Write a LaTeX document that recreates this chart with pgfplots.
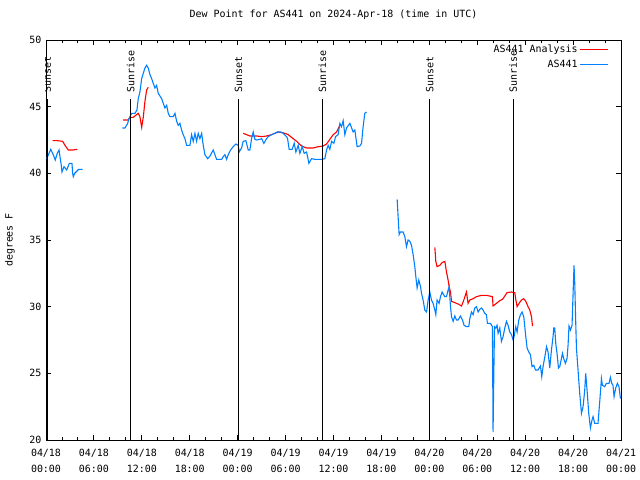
\documentclass[border=0pt]{standalone}
\usepackage{fontspec}
\setmainfont{DejaVu Sans Mono}
\usepackage{pgfplots}
\usepackage{pgfplotstable}
\pgfplotsset{compat=1.18}
\definecolor{obsblue}{RGB}{0,128,255}

% hours since 04/18 00:00 UTC, dew point (F)
\pgfplotstableread{
h y
0.09 41.1
0.59 41.8
0.91 41.4
1.16 41.0
1.41 41.5
1.63 41.75
1.75 41.25
1.88 40.75
2.0 40.1
2.25 40.5
2.59 40.25
2.92 40.75
3.25 40.75
3.34 40.0
3.42 39.75
3.59 40.0
4.09 40.3
4.59 40.3
7.0 nan
9.55 43.4
9.89 43.4
10.23 43.75
10.39 44.1
10.73 44.5
11.14 44.5
11.39 44.75
11.55 45.6
11.76 46.1
11.98 47.1
12.18 47.5
12.39 47.9
12.60 48.1
12.80 47.9
13.02 47.4
13.23 47.1
13.43 46.75
13.64 46.4
13.85 46.6
14.05 46.0
14.48 45.6
14.89 44.9
15.11 45.1
15.31 44.5
15.52 44.25
15.93 44.25
16.15 44.5
16.36 43.9
16.56 43.6
16.77 43.75
16.98 43.25
17.18 42.9
17.40 42.6
17.61 42.1
18.02 42.1
18.23 42.9
18.44 42.4
18.65 43.0
18.86 42.4
19.06 43.0
19.27 42.6
19.49 43.0
19.69 42.1
19.90 41.4
20.24 41.1
20.53 41.3
20.94 41.75
21.36 41.05
21.99 41.05
22.19 41.25
22.40 41.4
22.61 41.05
22.82 41.4
23.12 41.75
23.44 42.0
23.78 42.2
24.07 42.1
24.19 41.6
24.49 41.9
24.69 42.4
25.03 42.45
25.32 41.75
25.53 41.75
25.74 42.6
25.95 43.1
26.16 42.55
26.37 42.5
26.78 42.55
27.0 42.6
27.28 42.25
27.62 42.6
27.82 42.75
28.25 42.9
28.66 43.0
28.95 43.1
29.37 43.1
29.70 43.0
30.13 42.75
30.25 42.6
30.45 41.8
30.83 41.8
31.08 42.25
31.29 41.6
31.58 42.1
31.79 41.5
32.08 42.0
32.33 41.5
32.63 41.6
32.92 40.75
33.25 41.1
33.67 41.05
34.51 41.05
34.92 41.1
35.13 41.75
35.33 42.1
35.54 41.8
35.76 42.4
36.05 42.25
36.26 42.75
36.58 42.9
36.80 43.75
37.01 43.5
37.21 43.95
37.42 42.9
37.63 43.4
38.05 43.75
38.46 43.1
38.67 43.25
38.96 42.0
39.30 42.05
39.51 42.25
39.71 43.5
39.92 44.5
40.14 44.6
42.0 nan
43.97 38.05
44.09 36.75
44.22 35.4
44.39 35.6
44.72 35.6
44.93 35.25
45.14 34.5
45.34 35.0
45.56 34.9
45.77 34.6
45.97 33.9
46.18 33.0
46.31 32.25
46.47 31.4
46.68 32.0
46.90 31.5
47.02 31.0
47.22 30.5
47.43 29.75
47.65 29.6
47.85 30.5
48.06 31.1
48.27 30.5
48.47 30.25
48.69 29.75
48.81 29.4
48.97 30.5
49.22 30.25
49.40 30.75
49.60 31.1
49.94 30.75
50.15 30.75
50.35 31.25
50.48 31.5
50.65 30.0
50.78 29.25
50.98 28.9
51.19 29.3
51.40 29.0
51.60 29.0
51.90 29.3
52.15 29.0
52.35 28.6
52.65 28.5
52.94 28.5
53.07 29.1
53.28 29.6
53.48 29.4
53.69 29.9
53.90 30.0
54.11 29.6
54.32 29.8
54.53 29.9
54.73 29.75
54.94 29.5
55.15 29.4
55.27 28.75
55.65 28.75
55.90 28.5
55.98 20.6
56.07 24.75
56.16 28.5
56.32 28.4
56.48 28.6
56.61 28.0
56.82 28.4
57.03 27.4
57.23 27.75
57.45 28.4
57.66 28.9
57.86 28.6
58.07 28.1
58.29 27.9
58.49 27.5
58.61 27.75
58.82 28.5
58.99 28.1
59.20 29.0
59.41 29.4
59.61 29.6
59.82 29.25
59.95 28.5
60.08 27.75
60.24 26.9
60.45 26.6
60.66 26.4
60.86 25.5
61.08 25.6
61.29 25.25
61.61 25.25
61.91 25.55
62.08 24.75
62.24 25.5
62.54 26.5
62.67 27.0
62.87 26.6
63.08 25.4
63.29 26.75
63.49 27.75
63.58 28.4
63.70 28.4
63.83 27.25
63.99 26.5
64.17 25.4
64.33 25.5
64.54 26.1
64.67 26.5
64.83 26.1
65.04 25.75
65.24 26.1
65.37 27.1
65.49 28.55
65.67 28.25
65.87 28.6
66.0 31.0
66.12 33.1
66.21 31.75
66.30 29.5
66.42 26.9
66.62 25.25
66.83 23.5
67.05 22.0
67.25 22.5
67.46 23.75
67.58 25.0
67.75 23.75
67.96 22.0
68.17 20.9
68.37 21.5
68.50 21.75
68.71 21.25
69.12 21.25
69.34 22.9
69.55 24.6
69.67 24.1
69.96 24.0
70.17 24.25
70.50 24.25
70.67 24.7
70.84 24.25
71.00 24.1
71.13 23.25
71.34 23.9
71.55 24.25
71.75 24.0
71.93 23.1
}\obs

\pgfplotstableread{
h y
0.84 42.45
1.41 42.45
2.09 42.4
2.38 42.1
2.79 41.75
3.34 41.75
3.92 41.8
6.0 nan
9.67 44.0
10.30 44.0
10.51 44.2
10.93 44.2
11.55 44.5
11.76 44.25
11.98 43.45
12.18 44.2
12.39 45.4
12.60 46.25
12.80 46.45
18.0 nan
24.69 43.0
25.12 42.9
25.53 42.8
26.37 42.8
27.0 42.75
27.62 42.8
28.25 42.9
29.07 43.1
29.62 43.05
30.13 42.95
30.33 42.9
30.95 42.6
31.38 42.4
32.0 42.05
32.63 41.9
33.45 41.9
34.08 42.0
34.71 42.05
35.13 42.2
35.54 42.55
35.96 42.9
36.38 43.1
36.80 43.6
42.0 nan
48.69 34.45
48.81 33.4
48.97 33.0
49.31 33.1
49.60 33.3
49.94 33.4
50.15 32.6
50.35 32.0
50.48 31.5
50.65 31.1
50.78 30.4
51.19 30.3
51.60 30.2
52.03 30.05
52.32 30.5
52.65 31.1
52.85 30.25
53.07 30.5
53.48 30.6
53.90 30.75
54.53 30.85
55.15 30.85
55.90 30.75
55.98 30.05
56.41 30.25
56.82 30.45
57.16 30.55
57.45 30.8
57.72 31.05
58.29 31.1
58.70 31.05
58.82 30.55
58.99 30.0
59.24 30.25
59.54 30.5
59.82 30.6
60.08 30.4
60.36 30.0
60.58 29.75
60.79 29.25
60.92 28.55
}\ana

\begin{document}
\begin{tikzpicture}
\path[use as bounding box] (-46bp,-40bp) rectangle (594bp,440bp);
\begin{axis}[
  scale only axis, width=575bp, height=400bp,
  xmin=0, xmax=72, ymin=20, ymax=50,
  font=\fontsize{10}{16}\selectfont,
  /pgf/number format/assume math mode=true,
  axis line style={line width=0.9bp},
  tick align=inside, tick style={black, line width=0.9bp},
  major tick length=5bp, minor tick length=3bp,
  xtick={0,6,...,72}, minor x tick num=2,
  xticklabels={{04/18\\00:00},{04/18\\06:00},{04/18\\12:00},{04/18\\18:00},{04/19\\00:00},{04/19\\06:00},{04/19\\12:00},{04/19\\18:00},{04/20\\00:00},{04/20\\06:00},{04/20\\12:00},{04/20\\18:00},{04/21\\00:00}},
  xticklabel style={align=center, yshift=-6bp},
  ytick={20,25,...,50},
  yticklabel style={xshift=-1bp},
  ylabel={degrees F},
  ylabel style={at={(axis description cs:0,0.5)}, anchor=center, yshift=36bp},
  title={Dew Point for AS441 on 2024-Apr-18 (time in UTC)},
  title style={at={(0.5,1)}, anchor=base, yshift=17bp},
  unbounded coords=jump,
  legend style={draw=none, fill=none, at={(1,1)}, anchor=north east,
    xshift=-9bp, yshift=-1bp, row sep=2bp,
    nodes={inner sep=2bp}},
  legend cell align=right,
  legend plot pos=right,
  legend image code/.code={\draw[#1] (5bp,0bp) -- (33bp,0bp);},
]
\addplot[red, line width=1.1bp] table[x=h, y=y] {\ana};
\addlegendentry{AS441 Analysis}
\addplot[obsblue, line width=1.1bp] table[x=h, y=y] {\obs};
\addlegendentry{AS441}

\addplot[black, line width=1.3bp, forget plot] coordinates {(0.15,20) (0.15,45.6)}
  node[pos=1, rotate=90, anchor=west, inner sep=0pt, xshift=6bp] {Sunset};
\addplot[black, line width=1.3bp, forget plot] coordinates {(10.6,20) (10.6,45.6)}
  node[pos=1, rotate=90, anchor=west, inner sep=0pt, xshift=6bp] {Sunrise};
\addplot[black, line width=1.3bp, forget plot] coordinates {(24.1,20) (24.1,45.6)}
  node[pos=1, rotate=90, anchor=west, inner sep=0pt, xshift=6bp] {Sunset};
\addplot[black, line width=1.3bp, forget plot] coordinates {(34.6,20) (34.6,45.6)}
  node[pos=1, rotate=90, anchor=west, inner sep=0pt, xshift=6bp] {Sunrise};
\addplot[black, line width=1.3bp, forget plot] coordinates {(48.06,20) (48.06,45.6)}
  node[pos=1, rotate=90, anchor=west, inner sep=0pt, xshift=6bp] {Sunset};
\addplot[black, line width=1.3bp, forget plot] coordinates {(58.5,20) (58.5,45.6)}
  node[pos=1, rotate=90, anchor=west, inner sep=0pt, xshift=6bp] {Sunrise};
\end{axis}
\end{tikzpicture}
\end{document}
